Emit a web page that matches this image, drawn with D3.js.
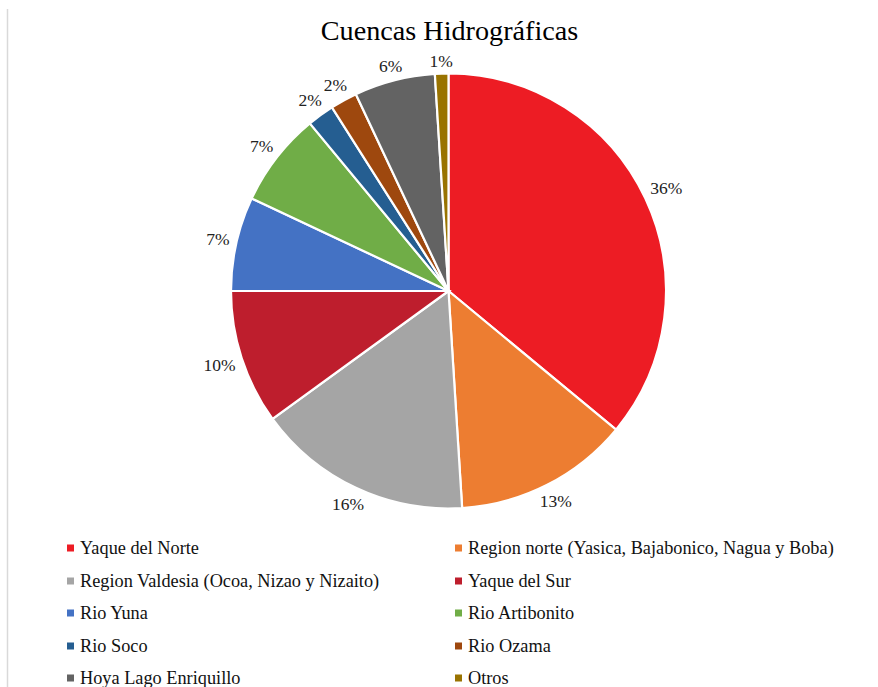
<!DOCTYPE html>
<html><head><meta charset="utf-8">
<script src="https://cdn.jsdelivr.net/npm/d3@7"></script>
<style>html,body{margin:0;padding:0;background:#fff;}svg{display:block;}</style>
</head><body>
<svg id="c" width="878" height="687"></svg>
<script>
const categories = ["Yaque del Norte","Region norte (Yasica, Bajabonico, Nagua y Boba)","Region Valdesia (Ocoa, Nizao y Nizaito)","Yaque del Sur","Rio Yuna","Rio Artibonito","Rio Soco","Rio Ozama","Hoya Lago Enriquillo","Otros"];
const values = [36,13,16,10,7,7,2,2,6,1];
const colors = ["#ED1C24","#ED7D31","#A5A5A5","#BE1E2D","#4472C4","#70AD47","#255E91","#9E480E","#636363","#997300"];
const title = "Cuencas Hidrográficas";

const FONT = "Liberation Serif";
const svg = d3.select("#c");
svg.append("line").attr("x1",7.5).attr("x2",7.5).attr("y1",9).attr("y2",687).attr("stroke","#d9d9d9").attr("stroke-width",1.5);

svg.append("text").attr("x",449.5).attr("y",40).attr("text-anchor","middle")
  .attr("font-family",FONT).attr("font-size",28.2).attr("fill","#000").text(title);

const cx=448.5, cy=291, R=217.5;
const data = categories.map((c,i)=>({c,v:values[i],col:colors[i]}));
const pie = d3.pie().value(d=>d.v).sort(null);
const arcs = pie(data);
const arc = d3.arc().innerRadius(0).outerRadius(R);
const g = svg.append("g").attr("transform",`translate(${cx},${cy})`);
g.selectAll("path").data(arcs).join("path").attr("d",arc)
  .attr("fill",d=>d.data.col).attr("stroke","#fff").attr("stroke-width",2.2);

const fmt = d=>d3.format(".0%")(d.data.v/d3.sum(values));
g.selectAll("text.lbl").data(arcs).join("text").attr("class","lbl")
  .attr("font-family",FONT).attr("font-size",17.5).attr("fill","#222")
  .attr("text-anchor","middle").attr("dy","0.33em")
  .text(fmt)
  .each(function(d){
    const a=(d.startAngle+d.endAngle)/2;
    const s=Math.sin(a), c=-Math.cos(a);
    const w=this.getComputedTextLength(), h=12.5;
    const r=R+6+Math.abs(s)*w/2+Math.abs(c)*h/2;
    d3.select(this).attr("x",r*s).attr("y",r*c);
  });

const leg = svg.append("g");
const colX=[70.5,458.5], rowY=[548,581,613,646,678];
data.forEach((d,i)=>{
  const x=colX[i%2], y=rowY[Math.floor(i/2)];
  leg.append("rect").attr("x",x-3.5).attr("y",y-3.5).attr("width",7).attr("height",7).attr("fill",d.col);
  leg.append("text").attr("x",x+9.5).attr("y",y).attr("dy","0.33em")
    .attr("font-family",FONT).attr("font-size",18.3).attr("fill","#111").text(d.c);
});
</script>
</body></html>
